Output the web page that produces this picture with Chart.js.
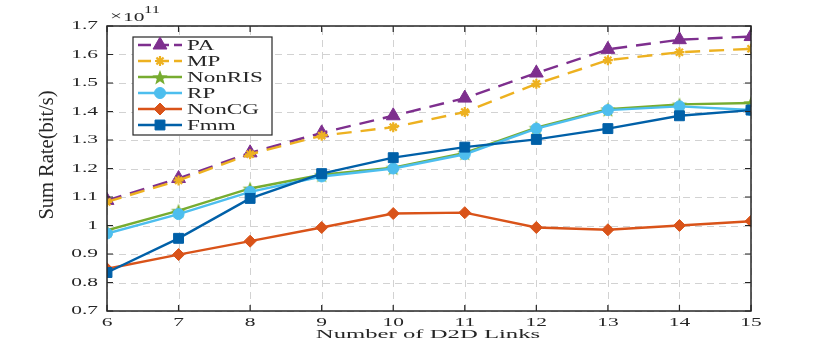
<!DOCTYPE html>
<html>
<head>
<meta charset="utf-8">
<script src="https://cdn.jsdelivr.net/npm/chart.js@4.4.1/dist/chart.umd.min.js"></script>
<style>
  body { margin: 0; background: #fff; }
  #wrap { width: 830px; height: 346px; }
</style>
</head>
<body>
<div id="wrap"><canvas id="mycanvas" width="830" height="346"></canvas></div>
<script>
// number of D2D links
var links = [6, 7, 8, 9, 10, 11, 12, 13, 14, 15];
// sum rate, in units of 1e11 bit/s
var pa     = [1.088, 1.165, 1.255, 1.325, 1.385, 1.447, 1.535, 1.618, 1.652, 1.663];
var mp     = [1.083, 1.158, 1.250, 1.315, 1.345, 1.398, 1.497, 1.580, 1.608, 1.620];
var nonris = [0.983, 1.052, 1.130, 1.178, 1.203, 1.255, 1.343, 1.408, 1.425, 1.430];
var rp     = [0.972, 1.040, 1.118, 1.172, 1.200, 1.250, 1.340, 1.405, 1.418, 1.405];
var noncg  = [0.848, 0.898, 0.945, 0.993, 1.042, 1.045, 0.993, 0.985, 1.000, 1.015];
var fmm    = [0.835, 0.955, 1.095, 1.182, 1.238, 1.275, 1.302, 1.340, 1.385, 1.405];
var yTicks = [0.7, 0.8, 0.9, 1, 1.1, 1.2, 1.3, 1.4, 1.5, 1.6, 1.7];

var serif = "'Liberation Serif', 'DejaVu Serif', serif";

// the source figure is stretched sideways, so text is drawn wider too
var textStretch = 1.65;
var canvas = document.getElementById('mycanvas');
var g2d = canvas.getContext('2d');
var plainFill = g2d.fillText.bind(g2d);
g2d.fillText = function(t, x, y, w){
    if (textStretch === 1) return plainFill(t, x, y);
    this.save();
    this.translate(x, y);
    this.scale(textStretch, 1);
    plainFill(t, 0, 0);
    this.restore();
};

// five-pointed star marker (Chart.js has none)
function starMarker(color, r){
    var c = document.createElement('canvas');
    var s = Math.ceil(r * 2 + 4);
    c.width = s; c.height = s;
    var g = c.getContext('2d');
    g.beginPath();
    for (var i = 0; i < 10; i++) {
        var rad = i % 2 === 0 ? r : r * 0.42;
        var a = -Math.PI / 2 + i * Math.PI / 5;
        var px = s / 2 + rad * Math.cos(a), py = s / 2 + rad * Math.sin(a) + 1;
        if (i === 0) g.moveTo(px, py); else g.lineTo(px, py);
    }
    g.closePath();
    g.fillStyle = color;
    g.fill();
    return c;
}

function pts(arr){
    var out = [];
    for (var i in links) out.push({x: links[i], y: arr[i]});
    return out;
}

var series = [
    {label: 'PA',     data: pa,     color: '#7E2F8E', style: 'triangle', dash: [15, 9], r: 8},
    {label: 'MP',     data: mp,     color: '#EDB120', style: 'star',     dash: [15, 9], r: 5},
    {label: 'NonRIS', data: nonris, color: '#77AC30', style: starMarker('#77AC30', 8), dash: [], r: 8},
    {label: 'RP',     data: rp,     color: '#4DBEEE', style: 'circle',   dash: [], r: 5.5},
    {label: 'NonCG',  data: noncg,  color: '#D95319', style: 'rectRot',  dash: [], r: 6},
    {label: 'Fmm',    data: fmm,    color: '#0060A8', style: 'rect',     dash: [], r: 7}
];

var datasets = [];
series.forEach(function(s, i){
    datasets.push({
        label: s.label,
        data: pts(s.data),
        borderColor: s.color,
        backgroundColor: s.color,
        borderWidth: 2.4,
        borderDash: s.dash,
        pointStyle: s.style,
        pointRadius: s.r,
        pointBorderWidth: s.style === 'star' ? 2.2 : 1,
        pointBorderColor: s.color,
        pointBackgroundColor: s.color,
        tension: 0,
        order: series.length - i
    });
});

// dashed grid behind the lines
var dashedGrid = {
    id: 'dashedGrid',
    beforeDatasetsDraw: function(chart){
        var ctx = chart.ctx, a = chart.chartArea;
        var xs = chart.scales.x, ys = chart.scales.y;
        ctx.save();
        ctx.strokeStyle = '#d2d2d2';
        ctx.lineWidth = 1;
        ctx.lineDashOffset = 0;
        ctx.setLineDash([7, 5]);
        ctx.beginPath();
        links.forEach(function(v){
            var px = Math.round(xs.getPixelForValue(v)) + 0.5;
            ctx.moveTo(px, a.bottom); ctx.lineTo(px, a.top);
        });
        yTicks.forEach(function(v){
            var py = Math.round(ys.getPixelForValue(v)) + 0.5;
            ctx.moveTo(a.left, py); ctx.lineTo(a.right, py);
        });
        ctx.stroke();
        ctx.restore();
    }
};

// box, inward ticks, exponent, axis titles and legend drawn MATLAB-style
var matlabDecor = {
    id: 'matlabDecor',
    afterDraw: function(chart){
        var ctx = chart.ctx, a = chart.chartArea;
        var xs = chart.scales.x, ys = chart.scales.y;
        ctx.save();
        ctx.strokeStyle = '#262626';
        ctx.lineWidth = 1.5;
        ctx.setLineDash([]);
        ctx.strokeRect(a.left, a.top, a.right - a.left, a.bottom - a.top);
        ctx.lineWidth = 1.2;
        ctx.beginPath();
        links.forEach(function(v){
            var px = xs.getPixelForValue(v);
            ctx.moveTo(px, a.bottom); ctx.lineTo(px, a.bottom - 6);
            ctx.moveTo(px, a.top);    ctx.lineTo(px, a.top + 6);
        });
        yTicks.forEach(function(v){
            var py = ys.getPixelForValue(v);
            ctx.moveTo(a.left, py);  ctx.lineTo(a.left + 6, py);
            ctx.moveTo(a.right, py); ctx.lineTo(a.right - 6, py);
        });
        ctx.stroke();

        ctx.fillStyle = '#262626';

        // exponent
        ctx.textBaseline = 'alphabetic';
        ctx.textAlign = 'left';
        ctx.font = "13px " + serif;
        ctx.fillText('\u00d7', a.left + 3, a.top - 6);
        ctx.fillText('10', a.left + 16, a.top - 5);
        ctx.font = "10px " + serif;
        ctx.fillText('11', a.left + 37, a.top - 13);

        // x title
        textStretch = 1.9;
        ctx.font = "13px " + serif;
        ctx.textAlign = 'center';
        ctx.textBaseline = 'middle';
        ctx.fillText('Number of D2D Links', (a.left + a.right) / 2 - 1, 335);

        // y title, tall glyphs like the stretched source
        textStretch = 1;
        ctx.save();
        ctx.translate(48, 155);
        ctx.rotate(-Math.PI / 2);
        ctx.scale(1.28, 1.3);
        ctx.font = "16px " + serif;
        ctx.textAlign = 'center';
        ctx.textBaseline = 'middle';
        ctx.fillText('Sum Rate(bit/s)', 0, 0);
        ctx.restore();
        textStretch = 1.65;

        // legend
        var lx = 133, ly = 37, lw = 139, lh = 98;
        ctx.fillStyle = '#fff';
        ctx.fillRect(lx, ly, lw, lh);
        ctx.strokeStyle = '#262626';
        ctx.lineWidth = 1.2;
        ctx.strokeRect(lx, ly, lw, lh);
        chart.data.datasets.forEach(function(ds, k){
            var y = ly + 8 + k * 16;
            ctx.strokeStyle = ds.borderColor;
            ctx.fillStyle = ds.borderColor;
            ctx.lineWidth = 2.4;
            ctx.setLineDash(ds.borderDash.length ? [13, 5] : []);
            ctx.beginPath();
            ctx.moveTo(lx + 5, y); ctx.lineTo(lx + 49, y);
            ctx.stroke();
            ctx.setLineDash([]);
            ctx.lineWidth = ds.pointBorderWidth;
            Chart.helpers.drawPoint(ctx, {
                pointStyle: ds.pointStyle,
                radius: ds.pointRadius,
                borderWidth: ds.pointBorderWidth,
                rotation: 0
            }, lx + 27, y);
            ctx.fillStyle = '#262626';
            ctx.font = "14px " + serif;
            ctx.textAlign = 'left';
            ctx.textBaseline = 'middle';
            ctx.fillText(ds.label, lx + 54, y + 1);
        });
        ctx.restore();
    }
};

var chartdata = { datasets: datasets };

var linegraph = new Chart(canvas, {
    type: 'line',
    data: chartdata,
    plugins: [dashedGrid, matlabDecor],
    options: {
        responsive: false,
        animation: false,
        layout: { padding: { left: 0, top: 26, right: 79, bottom: 0 } },
        plugins: { legend: { display: false }, tooltip: { enabled: false } },
        scales: {
            x: {
                type: 'linear',
                min: 6, max: 15,
                afterFit: function(sc){ sc.height = 35; },
                afterBuildTicks: function(sc){ sc.ticks = links.map(function(v){ return {value: v}; }); },
                grid: { display: false, drawTicks: false },
                border: { display: false },
                ticks: { color: '#262626', font: { family: serif, size: 13 }, padding: 4,
                         maxRotation: 0, autoSkip: false }
            },
            y: {
                min: 0.7, max: 1.7,
                afterFit: function(sc){ sc.width = 107; },
                afterBuildTicks: function(sc){ sc.ticks = yTicks.map(function(v){ return {value: v}; }); },
                grid: { display: false, drawTicks: false },
                border: { display: false },
                ticks: { color: '#262626', font: { family: serif, size: 13 }, padding: 9, autoSkip: false,
                         callback: function(v){ return String(+v.toFixed(1)); } }
            }
        }
    }
});
</script>
</body>
</html>
